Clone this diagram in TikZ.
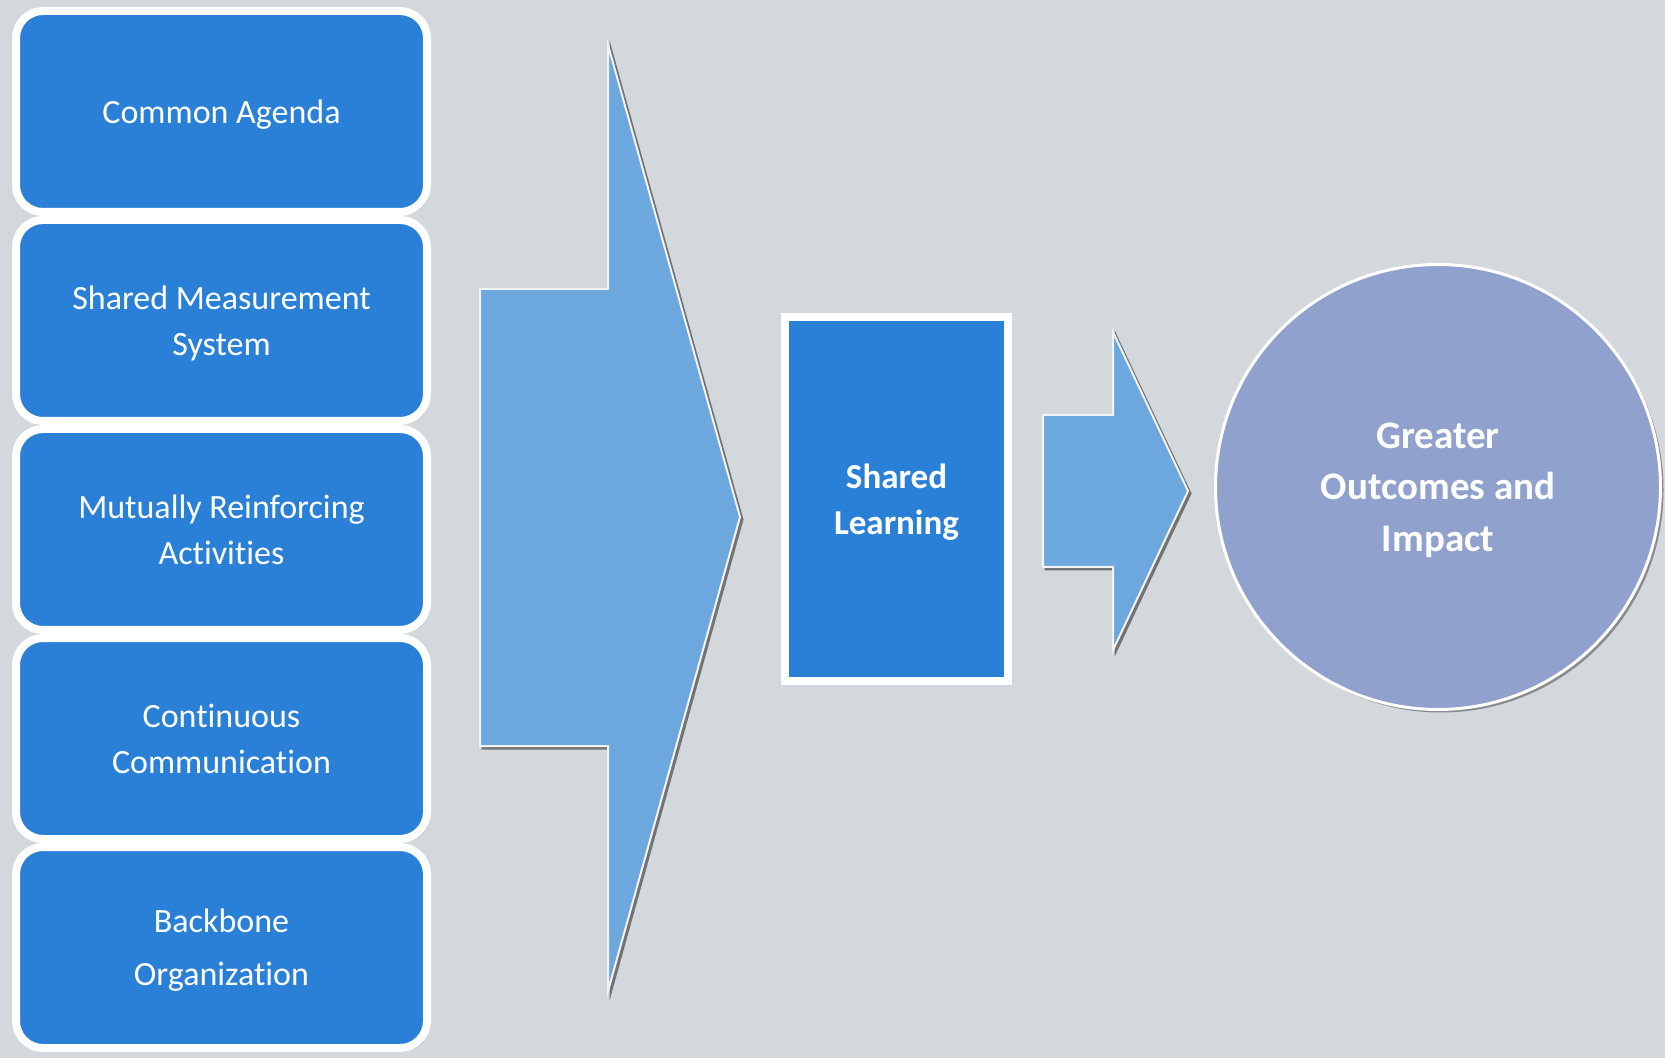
\documentclass[tikz,border=0pt]{standalone}
\usepackage{fontspec}
\setmainfont[Ligatures=NoCommon]{Carlito}
\usetikzlibrary{positioning,shadows}

\definecolor{bgGray}{HTML}{D3D8DC}
\definecolor{boxBlue}{HTML}{2A7FD6}
\definecolor{arrowBlue}{HTML}{6CA8DE}
\definecolor{circleBlue}{HTML}{91A1CD}

\tikzset{
	pillar/.style={draw=white, line width=4pt, fill=boxBlue, rounded corners=13.5pt,
		minimum width=205.5pt, minimum height=100.5pt, align=center, text=white,
		text depth=0pt, font=\fontsize{17}{23}\selectfont,
		drop shadow={shadow xshift=1.5pt, shadow yshift=-1.5pt, fill=black, opacity=0.35}},
	learnbox/.style={draw=white, line width=4pt, fill=boxBlue, minimum width=111.5pt,
		minimum height=182pt, align=center, text=white, text depth=0pt,
		font=\bfseries\fontsize{17.5}{23}\selectfont,
		drop shadow={shadow xshift=1.5pt, shadow yshift=-1.5pt, fill=black, opacity=0.35}},
	outcome/.style={circle, draw=white, line width=1.5pt, fill=circleBlue, minimum size=222.5pt,
		align=center, text=white, text depth=0pt,
		font=\bfseries\fontsize{19.5}{25.75}\selectfont,
		drop shadow={shadow xshift=1.5pt, shadow yshift=-1.5pt, fill=black, opacity=0.35}},
	arrowshade/.style={fill=black!55, draw=black!55, line width=1pt},
	arrowbody/.style={fill=arrowBlue, draw=white!90!gray, line width=1pt, line join=miter}
}

\begin{document}
\begin{tikzpicture}[x=0.5pt, y=-0.5pt]
	\fill[bgGray] (0,0) rectangle (1665,1058);
	\useasboundingbox (0,0) rectangle (1665,1058);

	% left column
	\node[pillar] (agenda) at (221.5,111.5) {Common Agenda};
	\node[pillar, below=0pt of agenda] (measure) {Shared Measurement\\System};
	\node[pillar, below=0pt of measure] (activities) {Mutually Reinforcing\\Activities};
	\node[pillar, below=0pt of activities] (communication) {Continuous\\Communication};
	\node[pillar, below=0pt of communication] (backbone) {Backbone\\[3.5pt]Organization};

	% big arrow
	\draw[arrowshade, shift={(2.5,2.5)}] (480,289) -- (608,289) -- (608,45) -- (740,517)
		-- (608,991) -- (608,746) -- (480,746) -- cycle;
	\draw[arrowbody] (480,289) -- (608,289) -- (608,45) -- (740,517)
		-- (608,991) -- (608,746) -- (480,746) -- cycle;

	\node[learnbox] (learning) at (896.5,499) {Shared\\Learning};

	% small arrow
	\draw[arrowshade, shift={(2.5,2.5)}] (1043,415) -- (1113,415) -- (1113,332) -- (1188,491)
		-- (1113,650) -- (1113,567) -- (1043,567) -- cycle;
	\draw[arrowbody] (1043,415) -- (1113,415) -- (1113,332) -- (1188,491)
		-- (1113,650) -- (1113,567) -- (1043,567) -- cycle;

	\node[outcome] (impact) at (1438,487) {Greater\\Outcomes and\\Impact};
\end{tikzpicture}
\end{document}
